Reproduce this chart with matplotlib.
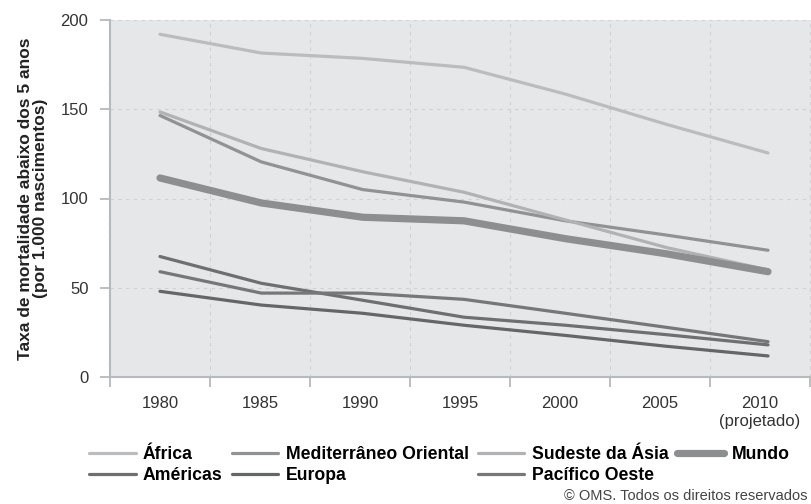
import matplotlib
matplotlib.use("Agg")
import matplotlib.pyplot as plt

plt.rcParams['font.family'] = ['Liberation Sans', 'DejaVu Sans']

# dados (mortes por 1.000 nascidos vivos)
years = [1980, 1985, 1990, 1995, 2000, 2005, 2010]
africa = [192, 181.5, 178.5, 173.5, 158.5, 141.5, 125.5]
mediterraneo = [146.5, 120.5, 105, 98, 87.5, 79.5, 71]
sudeste = [148.5, 128, 115, 103.5, 88, 72.5, 60]
mundo = [111.5, 97.5, 89.5, 87.5, 77.5, 69, 59]
americas = [67.5, 52.5, 43, 33.5, 29, 23.7, 18]
europa = [48, 40.3, 35.7, 29, 23.3, 17.2, 11.8]
pacifico = [59, 47, 47, 43.5, 35.7, 27.8, 19.8]

xlabels = ["1980", "1985", "1990", "1995", "2000", "2005", "2010\n(projetado)"]

fig = plt.figure(figsize=(8.11, 5.04), dpi=100)
ax = fig.add_axes([110/811, 1 - 377/504, 701/811, 357/504])
ax.set_facecolor('#e6e7e9')

thin = 2.3
l_afr, = ax.plot(years, africa, color='#bbbcbe', lw=thin, solid_capstyle='round', label='África')
l_med, = ax.plot(years, mediterraneo, color='#919294', lw=thin, solid_capstyle='round', label='Mediterrâneo Oriental')
l_sud, = ax.plot(years, sudeste, color='#b1b2b4', lw=thin, solid_capstyle='round', label='Sudeste da Ásia')
l_mun, = ax.plot(years, mundo, color='#8d8e90', lw=5.2, solid_capstyle='round', label='Mundo')
l_ame, = ax.plot(years, americas, color='#6e6f71', lw=thin, solid_capstyle='round', label='Américas')
l_eur, = ax.plot(years, europa, color='#656668', lw=thin, solid_capstyle='round', label='Europa')
l_pac, = ax.plot(years, pacifico, color='#767779', lw=thin, solid_capstyle='round', label='Pacífico Oeste')

# eixo x: 1980 em x=160px, 2010 em x=768px
pxy = 608 / 30.0
x0 = 1980 - 50 / pxy
x1 = 1980 + 651 / pxy
step = 100 / pxy
ax.set_xlim(x0, x1)
ax.set_ylim(0, 200)

edges = [x0 + k * step for k in range(8)]
centers = [1980 + k * step for k in range(7)]
ax.set_xticks(centers)
ax.set_xticklabels(xlabels, linespacing=1.25)
ax.set_xticks(edges, minor=True)
ax.tick_params(axis='x', which='major', length=0, pad=14, labelsize=12, labelcolor='#333333')
ax.tick_params(axis='x', which='minor', length=7.5, width=1.3, color='#b8b9bb', direction='out')

ax.set_yticks([0, 50, 100, 150, 200])
ax.tick_params(axis='y', length=7.5, width=1.3, color='#b8b9bb', pad=8, labelsize=12, labelcolor='#333333')

ax.grid(True, axis='y', which='major', color='#d0d1d3', lw=0.8, ls=(0, (3, 4)))
ax.grid(True, axis='x', which='minor', color='#d0d1d3', lw=0.8, ls=(0, (3, 4)))
ax.set_axisbelow(True)

for s in ['top', 'right']:
    ax.spines[s].set_visible(False)
for s in ['left', 'bottom']:
    ax.spines[s].set_color('#b8b9bb')
    ax.spines[s].set_linewidth(1.5)

ax.set_ylabel('Taxa de mortalidade abaixo dos 5 anos\n(por 1.000 nascimentos)',
              fontsize=12.5, fontweight='bold', color='#222222', linespacing=1.0)
ax.yaxis.set_label_coords(-0.088, 0.5)

handles = [l_afr, l_ame, l_med, l_eur, l_sud, l_pac, l_mun]
fig.legend(handles, [h.get_label() for h in handles], ncol=4, loc='upper left',
           bbox_to_anchor=(80/811, 1 - 437/504), frameon=False, borderpad=0,
           handlelength=2.65, handletextpad=0.42, columnspacing=0.5, labelspacing=0.25,
           prop={'weight': 'bold', 'size': 12.7})

fig.text(808/811, 1 - 496/504, '© OMS. Todos os direitos reservados', fontsize=10.5,
         color='#444444', va='center', ha='right')

fig.savefig('out.png', dpi=100)
